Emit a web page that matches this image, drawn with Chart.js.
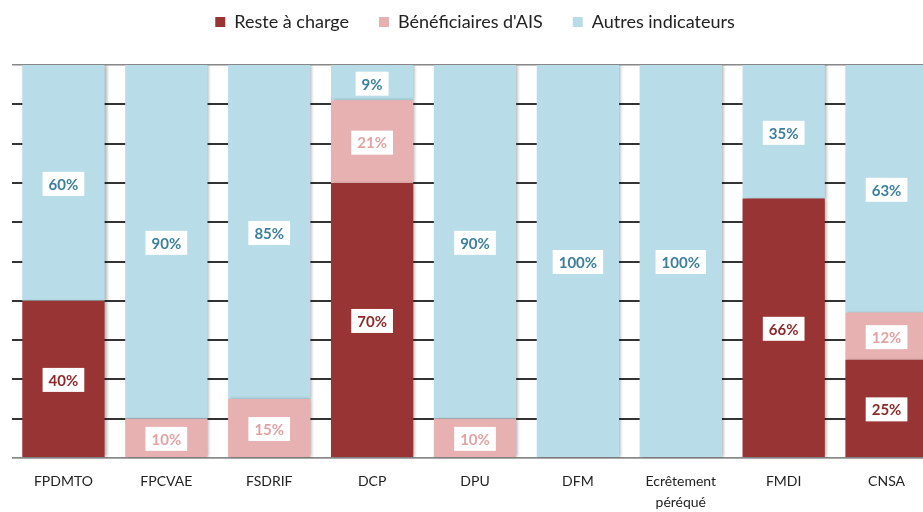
<!DOCTYPE html>
<html>
<head>
<meta charset="utf-8">
<script src="https://cdn.jsdelivr.net/npm/chart.js@4"></script>
<style>
  html, body { margin: 0; padding: 0; background: #fff; overflow: hidden; }
  #wrap { width: 978px; height: 512px; }
</style>
</head>
<body>
<div id="wrap"><canvas id="chart"></canvas></div>
<script>
const categories = ["FPDMTO", "FPCVAE", "FSDRIF", "DCP", "DPU", "DFM", ["Ecrêtement", "péréqué"], "FMDI", "CNSA"];
const resteACharge = [40, 0, 0, 70, 0, 0, 0, 66, 25];
const beneficiairesAIS = [0, 10, 15, 21, 10, 0, 0, 0, 12];
const autresIndicateurs = [60, 90, 85, 9, 90, 100, 100, 35, 63];

const FONT = "Lato, 'Open Sans', sans-serif";

// white boxes with the share of each segment
const valueBoxes = {
  id: "valueBoxes",
  afterDatasetsDraw(chart) {
    const ctx = chart.ctx;
    ctx.save();
    ctx.font = "bold 15px " + FONT;
    ctx.textAlign = "center";
    ctx.textBaseline = "middle";
    chart.data.datasets.forEach((ds, di) => {
      const meta = chart.getDatasetMeta(di);
      meta.data.forEach((bar, i) => {
        const v = ds.data[i];
        if (!v) return;
        const top = Math.max(bar.y, chart.chartArea.top);
        const y = (top + bar.base) / 2 + 1;
        const txt = v + "%";
        const w = ctx.measureText(txt).width + 12;
        ctx.fillStyle = "#fff";
        ctx.fillRect(bar.x - w / 2, y - 12, w, 24);
        ctx.fillStyle = ds.labelColor;
        ctx.fillText(txt, bar.x, y + 1);
      });
    });
    ctx.restore();
  },
};

// soft shadow on the right edge of the bars
const barShadow = {
  id: "barShadow",
  beforeDatasetsDraw(chart) {
    const ctx = chart.ctx;
    ctx.save();
    ctx.shadowColor = "rgba(0,0,0,0.3)";
    ctx.shadowOffsetX = 2;
    ctx.shadowBlur = 3;
  },
  afterDatasetsDraw(chart) {
    chart.ctx.restore();
  },
};

// fixed height for the legend block
const legendGap = {
  id: "legendGap",
  beforeInit(chart) {
    const fit = chart.legend.fit;
    chart.legend.fit = function () {
      fit.bind(chart.legend)();
      this.height = 82;
    };
  },
};

new Chart(document.getElementById("chart"), {
  type: "bar",
  data: {
    labels: categories,
    datasets: [
      {
        label: "Reste à charge",
        data: resteACharge,
        backgroundColor: "#983433",
        labelColor: "#8c2a2a",
      },
      {
        label: "Bénéficiaires d'AIS",
        data: beneficiairesAIS,
        backgroundColor: "#e6b1b0",
        labelColor: "#e3a2a2",
      },
      {
        label: "Autres indicateurs",
        data: autresIndicateurs,
        backgroundColor: "#b8dde8",
        labelColor: "#3b7f9f",
      },
    ],
  },
  options: {
    responsive: true,
    maintainAspectRatio: false,
    animation: false,
    layout: { padding: { left: 12, right: 40, top: -17, bottom: 0 } },
    datasets: {
      bar: { barPercentage: 0.8, categoryPercentage: 1, borderWidth: 0 },
    },
    plugins: {
      legend: {
        position: "top",
        labels: {
          font: { family: FONT, size: 18 },
          color: "#222",
          boxWidth: 10,
          boxHeight: 10,
          padding: 30,
        },
      },
      tooltip: { enabled: false },
    },
    scales: {
      x: {
        stacked: true,
        grid: { display: false },
        border: { display: true, color: "#aaa", width: 1 },
        afterFit(scale) {
          scale.height = 54;
        },
        ticks: {
          font: { family: FONT, size: 14, lineHeight: 1.5 },
          color: "#222",
          padding: 5,
          maxRotation: 0,
          autoSkip: false,
        },
      },
      y: {
        stacked: true,
        min: 0,
        max: 100,
        ticks: { display: false, stepSize: 10 },
        border: { display: false },
        grid: {
          drawTicks: false,
          color: (c) => (c.tick && (c.tick.value === 100 || c.tick.value === 0) ? "#888" : "#333"),
          lineWidth: (c) => (c.tick && c.tick.value === 100 ? 1.5 : 2),
        },
      },
    },
  },
  plugins: [legendGap, barShadow, valueBoxes],
});
</script>
</body>
</html>
